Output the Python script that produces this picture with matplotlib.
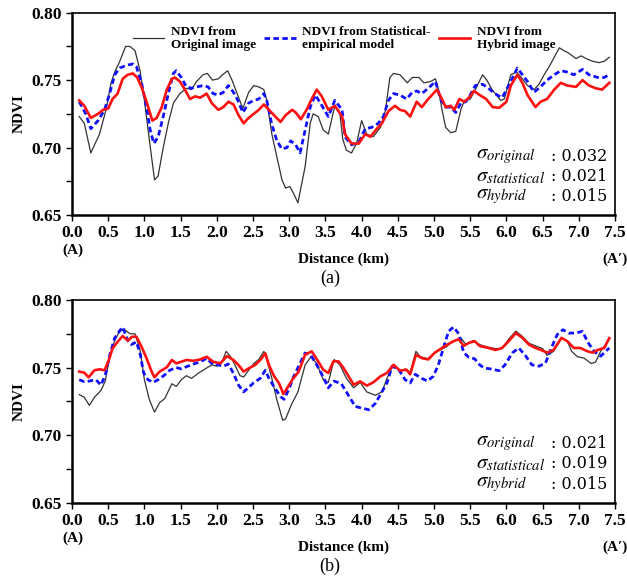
import matplotlib
matplotlib.use("Agg")
import matplotlib.pyplot as plt
from matplotlib.ticker import MultipleLocator

plt.rcParams['font.family'] = ['Liberation Serif', 'DejaVu Serif']
plt.rcParams['mathtext.fontset'] = 'stix'

# ---- panel (a) ----
a_orig_x = [0.10, 0.17, 0.26, 0.38, 0.47, 0.54, 0.59, 0.66, 0.74, 0.80, 0.87, 0.94, 1.00, 1.07, 1.14, 1.19,
            1.26, 1.33, 1.40, 1.49, 1.58, 1.65, 1.72, 1.81, 1.87, 1.94, 2.02, 2.08, 2.15, 2.21, 2.28, 2.36,
            2.44, 2.51, 2.58, 2.65, 2.69, 2.76, 2.83, 2.90, 2.95, 3.01, 3.06, 3.12, 3.22, 3.29, 3.33, 3.40,
            3.47, 3.54, 3.63, 3.70, 3.74, 3.79, 3.86, 3.93, 4.00, 4.07, 4.16, 4.26, 4.33, 4.39, 4.44, 4.53,
            4.63, 4.70, 4.79, 4.86, 4.95, 5.02, 5.06, 5.11, 5.16, 5.23, 5.30, 5.37, 5.42, 5.50, 5.57, 5.67,
            5.73, 5.80, 5.92, 5.97, 6.06, 6.14, 6.22, 6.29, 6.38, 6.45, 6.52, 6.59, 6.66, 6.73, 6.79, 6.86,
            6.96, 7.03, 7.10, 7.19, 7.28, 7.35, 7.42]
a_orig = [0.723, 0.718, 0.696, 0.710, 0.728, 0.748, 0.756, 0.764, 0.775, 0.775, 0.772, 0.757, 0.735, 0.705, 0.676, 0.679,
          0.700, 0.718, 0.733, 0.740, 0.744, 0.743, 0.749, 0.754, 0.755, 0.750, 0.751, 0.754, 0.757, 0.750, 0.740, 0.729,
          0.741, 0.746, 0.745, 0.743, 0.735, 0.710, 0.693, 0.676, 0.670, 0.671, 0.666, 0.659, 0.686, 0.718, 0.725, 0.723,
          0.713, 0.710, 0.731, 0.725, 0.706, 0.698, 0.696, 0.703, 0.720, 0.710, 0.708, 0.715, 0.728, 0.752, 0.755, 0.754,
          0.748, 0.752, 0.752, 0.748, 0.749, 0.751, 0.743, 0.728, 0.715, 0.711, 0.712, 0.728, 0.735, 0.736, 0.743, 0.754,
          0.750, 0.743, 0.735, 0.736, 0.754, 0.756, 0.751, 0.746, 0.743, 0.747, 0.754, 0.760, 0.767, 0.774, 0.772, 0.770,
          0.766, 0.768, 0.766, 0.764, 0.763, 0.764, 0.767]

a_stat_x = [0.10, 0.19, 0.26, 0.36, 0.45, 0.52, 0.59, 0.66, 0.75, 0.84, 0.89, 0.96, 1.03, 1.08, 1.13, 1.19,
            1.26, 1.33, 1.40, 1.44, 1.51, 1.58, 1.65, 1.72, 1.81, 1.88, 1.95, 2.02, 2.09, 2.16, 2.23, 2.29,
            2.36, 2.44, 2.51, 2.58, 2.65, 2.69, 2.76, 2.83, 2.90, 2.97, 3.02, 3.09, 3.15, 3.22, 3.29, 3.36,
            3.43, 3.54, 3.63, 3.73, 3.77, 3.86, 3.96, 4.05, 4.14, 4.23, 4.30, 4.37, 4.44, 4.53, 4.62, 4.70,
            4.76, 4.83, 4.92, 5.02, 5.09, 5.16, 5.23, 5.30, 5.37, 5.44, 5.50, 5.57, 5.67, 5.75, 5.84, 5.94,
            6.04, 6.15, 6.22, 6.29, 6.38, 6.47, 6.56, 6.66, 6.75, 6.84, 6.93, 7.05, 7.14, 7.26, 7.35, 7.42]
a_stat = [0.734, 0.725, 0.714, 0.720, 0.728, 0.740, 0.754, 0.759, 0.761, 0.762, 0.760, 0.748, 0.730, 0.713, 0.703, 0.708,
          0.723, 0.740, 0.755, 0.757, 0.752, 0.745, 0.744, 0.745, 0.746, 0.745, 0.740, 0.739, 0.741, 0.746, 0.741, 0.735,
          0.726, 0.733, 0.735, 0.736, 0.740, 0.735, 0.717, 0.705, 0.699, 0.700, 0.705, 0.702, 0.696, 0.713, 0.730, 0.739,
          0.733, 0.723, 0.735, 0.728, 0.708, 0.702, 0.704, 0.714, 0.715, 0.718, 0.723, 0.735, 0.740, 0.739, 0.736, 0.741,
          0.742, 0.740, 0.744, 0.749, 0.736, 0.730, 0.730, 0.726, 0.733, 0.734, 0.739, 0.746, 0.747, 0.744, 0.740, 0.737,
          0.747, 0.759, 0.754, 0.749, 0.741, 0.745, 0.750, 0.754, 0.757, 0.756, 0.754, 0.758, 0.754, 0.752, 0.752, 0.754]

a_hyb_x = [0.10, 0.17, 0.26, 0.36, 0.43, 0.50, 0.56, 0.63, 0.70, 0.77, 0.84, 0.90, 0.96, 1.03, 1.11, 1.17,
           1.24, 1.31, 1.38, 1.42, 1.49, 1.56, 1.63, 1.70, 1.77, 1.86, 1.93, 2.02, 2.09, 2.16, 2.23, 2.30,
           2.37, 2.44, 2.51, 2.58, 2.65, 2.72, 2.79, 2.88, 2.95, 3.04, 3.09, 3.16, 3.24, 3.31, 3.38, 3.45,
           3.54, 3.63, 3.73, 3.77, 3.86, 3.96, 4.05, 4.12, 4.21, 4.28, 4.37, 4.46, 4.53, 4.60, 4.67, 4.76,
           4.83, 4.92, 5.04, 5.11, 5.16, 5.23, 5.28, 5.35, 5.42, 5.50, 5.55, 5.63, 5.72, 5.81, 5.90, 6.00,
           6.06, 6.15, 6.22, 6.29, 6.40, 6.47, 6.56, 6.66, 6.75, 6.84, 6.96, 7.05, 7.14, 7.23, 7.32, 7.42]
a_hyb = [0.735, 0.731, 0.722, 0.725, 0.728, 0.729, 0.736, 0.740, 0.751, 0.754, 0.755, 0.752, 0.745, 0.734, 0.720, 0.722,
         0.730, 0.743, 0.751, 0.752, 0.749, 0.743, 0.736, 0.738, 0.737, 0.740, 0.733, 0.728, 0.730, 0.734, 0.732, 0.724,
         0.718, 0.722, 0.725, 0.728, 0.732, 0.728, 0.724, 0.719, 0.724, 0.728, 0.726, 0.721, 0.728, 0.736, 0.743, 0.738,
         0.728, 0.731, 0.723, 0.710, 0.703, 0.703, 0.710, 0.708, 0.714, 0.718, 0.727, 0.731, 0.728, 0.727, 0.723, 0.734,
         0.730, 0.736, 0.743, 0.736, 0.730, 0.731, 0.728, 0.736, 0.734, 0.738, 0.742, 0.739, 0.736, 0.730, 0.7295, 0.734,
         0.746, 0.754, 0.748, 0.739, 0.730, 0.734, 0.736, 0.743, 0.748, 0.746, 0.745, 0.750, 0.746, 0.744, 0.743, 0.748]

# ---- panel (b) ----
b_orig_x = [0.10, 0.17, 0.24, 0.31, 0.40, 0.46, 0.52, 0.59, 0.66, 0.73, 0.80, 0.87, 0.94, 1.00, 1.07, 1.14,
            1.21, 1.28, 1.38, 1.44, 1.51, 1.58, 1.65, 1.75, 1.84, 1.93, 2.00, 2.07, 2.13, 2.19, 2.25, 2.32,
            2.37, 2.44, 2.51, 2.58, 2.65, 2.69, 2.76, 2.83, 2.91, 2.95, 3.03, 3.12, 3.22, 3.30, 3.38, 3.47,
            3.54, 3.62, 3.70, 3.79, 3.89, 3.98, 4.07, 4.19, 4.28, 4.35, 4.44, 4.53, 4.60, 4.67, 4.75, 4.81,
            4.91, 4.99, 5.06, 5.16, 5.23, 5.30, 5.37, 5.44, 5.54, 5.63, 5.75, 5.85, 5.94, 6.03, 6.13, 6.22,
            6.31, 6.40, 6.50, 6.56, 6.65, 6.76, 6.84, 6.90, 6.98, 7.07, 7.17, 7.23, 7.30, 7.37, 7.42]
b_orig = [0.730, 0.728, 0.722, 0.728, 0.733, 0.740, 0.758, 0.770, 0.777, 0.778, 0.775, 0.775, 0.763, 0.741, 0.726, 0.717,
          0.724, 0.727, 0.738, 0.736, 0.741, 0.744, 0.742, 0.746, 0.749, 0.752, 0.751, 0.754, 0.762, 0.758, 0.752, 0.744,
          0.743, 0.748, 0.753, 0.756, 0.762, 0.756, 0.742, 0.726, 0.711, 0.712, 0.7225, 0.732, 0.752, 0.758, 0.753, 0.741,
          0.739, 0.756, 0.752, 0.742, 0.735, 0.739, 0.732, 0.7295, 0.732, 0.742, 0.752, 0.747, 0.749, 0.746, 0.762, 0.758,
          0.7565, 0.760, 0.7625, 0.765, 0.768, 0.770, 0.772, 0.767, 0.770, 0.767, 0.765, 0.764, 0.764, 0.771, 0.777, 0.773,
          0.768, 0.766, 0.764, 0.759, 0.762, 0.772, 0.7695, 0.762, 0.758, 0.757, 0.753, 0.754, 0.762, 0.767, 0.772]

b_stat_x = [0.10, 0.17, 0.24, 0.33, 0.40, 0.46, 0.52, 0.59, 0.67, 0.70, 0.77, 0.82, 0.89, 0.94, 0.99, 1.05,
            1.12, 1.19, 1.28, 1.35, 1.44, 1.51, 1.58, 1.68, 1.77, 1.86, 1.95, 2.02, 2.09, 2.16, 2.23, 2.30,
            2.37, 2.44, 2.51, 2.60, 2.67, 2.72, 2.79, 2.88, 2.93, 3.00, 3.06, 3.13, 3.22, 3.30, 3.38, 3.47,
            3.54, 3.62, 3.72, 3.84, 3.91, 4.00, 4.10, 4.19, 4.28, 4.35, 4.42, 4.51, 4.60, 4.67, 4.74, 4.83,
            4.91, 4.99, 5.06, 5.13, 5.20, 5.27, 5.34, 5.41, 5.48, 5.56, 5.63, 5.69, 5.78, 5.90, 5.98, 6.08,
            6.17, 6.26, 6.35, 6.45, 6.54, 6.62, 6.70, 6.78, 6.86, 6.95, 7.05, 7.12, 7.21, 7.30, 7.42]
b_stat = [0.741, 0.7395, 0.740, 0.741, 0.737, 0.7445, 0.759, 0.772, 0.778, 0.780, 0.770, 0.767, 0.769, 0.7605, 0.746, 0.741,
          0.739, 0.741, 0.7445, 0.748, 0.750, 0.749, 0.7506, 0.7526, 0.7543, 0.7568, 0.752, 0.752, 0.751, 0.7526, 0.7457, 0.737,
          0.732, 0.7353, 0.7388, 0.742, 0.748, 0.742, 0.7358, 0.7284, 0.7265, 0.7346, 0.7432, 0.751, 0.7608, 0.759, 0.752, 0.743,
          0.735, 0.740, 0.738, 0.7275, 0.7213, 0.720, 0.7188, 0.7235, 0.732, 0.7386, 0.751, 0.7487, 0.741, 0.7386, 0.745, 0.742,
          0.740, 0.7436, 0.752, 0.7645, 0.7768, 0.780, 0.775, 0.761, 0.7576, 0.7565, 0.752, 0.7497, 0.749, 0.7477, 0.752, 0.7608,
          0.7645, 0.759, 0.752, 0.751, 0.7534, 0.7645, 0.7743, 0.778, 0.7755, 0.7755, 0.7768, 0.769, 0.762, 0.7584, 0.7645]

b_hyb_x = [0.10, 0.17, 0.23, 0.31, 0.38, 0.45, 0.51, 0.56, 0.63, 0.70, 0.77, 0.83, 0.89, 0.96, 1.03, 1.10,
           1.14, 1.21, 1.31, 1.38, 1.44, 1.51, 1.58, 1.68, 1.77, 1.86, 1.95, 2.05, 2.14, 2.23, 2.30, 2.37,
           2.44, 2.53, 2.60, 2.67, 2.72, 2.79, 2.86, 2.92, 2.97, 3.04, 3.13, 3.22, 3.31, 3.40, 3.47, 3.54,
           3.61, 3.68, 3.75, 3.89, 3.98, 4.07, 4.16, 4.26, 4.35, 4.44, 4.53, 4.62, 4.67, 4.75, 4.83, 4.92,
           5.01, 5.11, 5.20, 5.27, 5.34, 5.41, 5.48, 5.56, 5.63, 5.75, 5.85, 5.94, 6.03, 6.13, 6.22, 6.31,
           6.40, 6.50, 6.56, 6.65, 6.76, 6.84, 6.93, 7.02, 7.12, 7.19, 7.26, 7.35, 7.42]
b_hyb = [0.747, 0.7462, 0.7428, 0.748, 0.7487, 0.748, 0.7556, 0.7642, 0.769, 0.7733, 0.770, 0.7728, 0.7728, 0.7655, 0.7568, 0.747,
         0.7428, 0.747, 0.7502, 0.7556, 0.7531, 0.7543, 0.7556, 0.755, 0.756, 0.758, 0.7543, 0.7531, 0.7585, 0.7556, 0.7519, 0.747,
         0.7494, 0.7519, 0.7556, 0.7605, 0.7519, 0.7437, 0.7383, 0.7304, 0.7346, 0.7408, 0.747, 0.7595, 0.762, 0.7546, 0.7484, 0.746,
         0.7546, 0.7546, 0.7497, 0.7373, 0.7398, 0.7366, 0.739, 0.7435, 0.746, 0.752, 0.7477, 0.7484, 0.745, 0.7595, 0.757, 0.756,
         0.761, 0.7645, 0.7675, 0.7695, 0.771, 0.766, 0.7682, 0.7695, 0.766, 0.7645, 0.763, 0.7645, 0.7695, 0.7755, 0.772, 0.767,
         0.7645, 0.7625, 0.761, 0.763, 0.772, 0.7695, 0.7645, 0.7645, 0.762, 0.761, 0.763, 0.7645, 0.7718]

labels = ['NDVI from\nOriginal image', 'NDVI from Statistical-\nempirical model', 'NDVI from\nHybrid image']
sigma_names = ['original', 'statistical', 'hybrid']
a_sigma = ['0.032', '0.021', '0.015']
b_sigma = ['0.021', '0.019', '0.015']
x_ticks = [0.0, 0.5, 1.0, 1.5, 2.0, 2.5, 3.0, 3.5, 4.0, 4.5, 5.0, 5.5, 6.0, 6.5, 7.0, 7.5]

fig = plt.figure(figsize=(6.27, 5.79), dpi=100)
ax_a = fig.add_axes([0.1148, 0.6287, 0.8662, 0.3493])
ax_b = fig.add_axes([0.1148, 0.1318, 0.8662, 0.3501])

panels = [
    (ax_a, a_orig_x, a_orig, a_stat_x, a_stat, a_hyb_x, a_hyb, a_sigma, '(a)'),
    (ax_b, b_orig_x, b_orig, b_stat_x, b_stat, b_hyb_x, b_hyb, b_sigma, '(b)'),
]

for ax, ox, oy, sx, sy, hx, hy, sig, tag in panels:
    ax.plot(ox, oy, color='#333333', lw=0.9, label=labels[0])
    ax.plot(sx, sy, color='#1010ff', lw=2.0, dashes=(2.0, 1.2), label=labels[1])
    ax.plot(hx, hy, color='#ff1010', lw=1.9, label=labels[2])

    ax.set_xlim(0, 7.5)
    ax.set_ylim(0.65, 0.80)
    ax.set_xticks(x_ticks)
    ax.set_xticklabels([f'{t:.1f}' for t in x_ticks])
    ax.yaxis.set_major_locator(MultipleLocator(0.05))
    ax.yaxis.set_minor_locator(MultipleLocator(0.025))
    ax.yaxis.set_major_formatter(plt.FormatStrFormatter('%.2f'))
    ax.tick_params(axis='both', which='both', direction='out', length=4, width=1.0,
                   labelsize=12.5)
    for lab in ax.get_xticklabels() + ax.get_yticklabels():
        lab.set_fontweight('bold')
    for side in ['left', 'bottom']:
        ax.spines[side].set_linewidth(1.8)
    for side in ['top', 'right']:
        ax.spines[side].set_linewidth(1.2)

    ax.set_ylabel('NDVI', fontsize=11, fontweight='bold', labelpad=4)
    ax.set_xlabel('Distance (km)', fontsize=11, fontweight='bold', labelpad=8)
    ax.text(0.002, -0.14, '(A)', transform=ax.transAxes, ha='center', va='top',
            fontsize=11, fontweight='bold')
    ax.text(1.0, -0.185, "(A\u2032)", transform=ax.transAxes, ha='center', va='top',
            fontsize=11, fontweight='bold')
    ax.text(0.475, -0.27, tag, transform=ax.transAxes, ha='center', va='top', fontsize=13)

    for i, name in enumerate(sigma_names):
        yy = 0.29 - i * 0.099
        ax.text(0.744, yy, r'$\sigma_{%s}$' % name, transform=ax.transAxes,
                ha='left', va='center', fontsize=15)
        ax.text(0.882, yy, ': ' + sig[i], transform=ax.transAxes,
                ha='left', va='center', fontsize=11.5, family='DejaVu Serif')

ax_a.legend(loc='upper left', bbox_to_anchor=(0.09, 0.995), ncol=3, frameon=False,
            handlelength=2.4, handletextpad=0.5, columnspacing=0.6,
            prop={'weight': 'bold', 'size': 9.5})

fig.savefig('out.png', dpi=100)
